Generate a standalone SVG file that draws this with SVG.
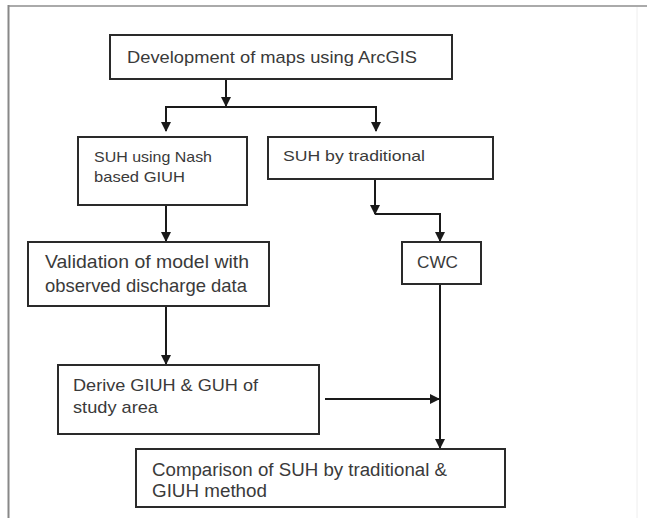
<svg xmlns="http://www.w3.org/2000/svg" width="647" height="518" viewBox="0 0 647 518">
<style>
.box{fill:#fff;stroke:#2a2a2a;stroke-width:2}
.t{font-family:"Liberation Sans",Arial,sans-serif;fill:#3a3a3a}
.c{fill:none;stroke:#1a1a1a;stroke-width:2}
</style>
<defs>
<marker id="ah" viewBox="0 0 10 10" refX="9" refY="5" markerWidth="5" markerHeight="5" orient="auto" markerUnits="strokeWidth">
<path d="M0,0 L10,5 L0,10 z" fill="#1a1a1a"/>
</marker>
</defs>
<rect x="0" y="0" width="647" height="518" fill="#fff"/>
<g id="frame">
<line x1="8" y1="6" x2="647" y2="6" stroke="#aaa" stroke-width="2"/>
<line x1="8.5" y1="5" x2="8.5" y2="518" stroke="#888" stroke-width="2"/>
<line x1="637" y1="7" x2="637" y2="518" stroke="#eee" stroke-width="1"/>
</g>
<g id="connectors">
<line class="c" x1="226" y1="79" x2="226" y2="106" marker-end="url(#ah)"/>
<polyline class="c" points="166,130 166,107 376,107 376,130"/>
<line class="c" x1="166" y1="107" x2="166" y2="131" marker-end="url(#ah)"/>
<line class="c" x1="376" y1="107" x2="376" y2="131" marker-end="url(#ah)"/>
<line class="c" x1="166" y1="205" x2="166" y2="241" marker-end="url(#ah)"/>
<line class="c" x1="375" y1="179" x2="375" y2="214" marker-end="url(#ah)"/>
<polyline class="c" points="375,214 440,214 440,241" marker-end="url(#ah)"/>
<line class="c" x1="166" y1="306" x2="166" y2="364" marker-end="url(#ah)"/>
<line class="c" x1="440" y1="284" x2="440" y2="448" marker-end="url(#ah)"/>
<line class="c" x1="325" y1="399" x2="439" y2="399" marker-end="url(#ah)"/>
</g>
<g id="n1">
<rect class="box" x="110" y="35" width="342" height="44"/>
<text class="t" x="127" y="63" font-size="17" textLength="290" lengthAdjust="spacingAndGlyphs">Development of maps using ArcGIS</text>
</g>
<g id="n2">
<rect class="box" x="78" y="137" width="169" height="68"/>
<text class="t" x="94" y="162" font-size="15" textLength="118" lengthAdjust="spacingAndGlyphs">SUH using Nash</text>
<text class="t" x="94" y="182" font-size="15" textLength="91" lengthAdjust="spacingAndGlyphs">based GIUH</text>
</g>
<g id="n3">
<rect class="box" x="268" y="137" width="225" height="42"/>
<text class="t" x="283" y="161" font-size="15" textLength="142" lengthAdjust="spacingAndGlyphs">SUH by traditional</text>
</g>
<g id="n4">
<rect class="box" x="28" y="242" width="241" height="64"/>
<text class="t" x="45" y="268" font-size="19" textLength="204" lengthAdjust="spacingAndGlyphs">Validation of model with</text>
<text class="t" x="45" y="292" font-size="19" textLength="202" lengthAdjust="spacingAndGlyphs">observed discharge data</text>
</g>
<g id="n5">
<rect class="box" x="402" y="242" width="79" height="42"/>
<text class="t" x="417" y="268" font-size="17" textLength="41" lengthAdjust="spacingAndGlyphs">CWC</text>
</g>
<g id="n6">
<rect class="box" x="58" y="365" width="261" height="69"/>
<text class="t" x="73" y="391" font-size="17" textLength="185" lengthAdjust="spacingAndGlyphs">Derive GIUH &amp; GUH of</text>
<text class="t" x="73" y="413" font-size="17" textLength="85" lengthAdjust="spacingAndGlyphs">study area</text>
</g>
<g id="n7">
<rect class="box" x="136" y="449" width="369" height="58"/>
<text class="t" x="152" y="476" font-size="18" textLength="295" lengthAdjust="spacingAndGlyphs">Comparison of SUH by traditional &amp;</text>
<text class="t" x="152" y="497" font-size="18" textLength="115" lengthAdjust="spacingAndGlyphs">GIUH method</text>
</g>
</svg>
